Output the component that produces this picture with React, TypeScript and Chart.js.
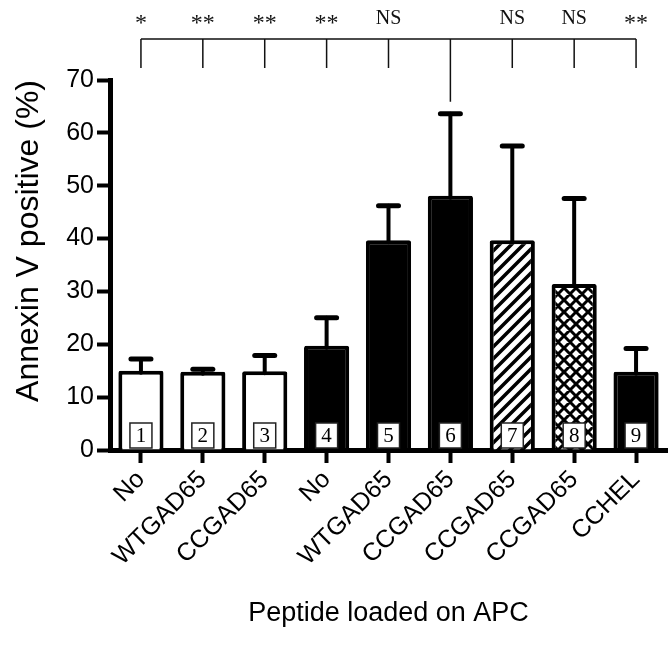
import React, { useEffect, useRef } from 'react';
import { Chart, registerables } from 'chart.js';

Chart.register(...registerables);

// ---- data ----
const categories = ['No', 'WTGAD65', 'CCGAD65', 'No', 'WTGAD65', 'CCGAD65', 'CCGAD65', 'CCGAD65', 'CCHEL'];
const meanValues = [15.0, 14.8, 14.9, 19.7, 39.7, 48.1, 39.7, 31.4, 14.8];
const errorValues = [2.2, 0.5, 3.0, 5.3, 6.5, 15.5, 17.8, 16.2, 4.4];
const barNumbers = ['1', '2', '3', '4', '5', '6', '7', '8', '9'];
const significance = ['*', '**', '**', '**', 'NS', '', 'NS', 'NS', '**'];
const referenceIndex = 5;
const fillKinds = ['open', 'open', 'open', 'solid', 'solid', 'solid', 'hatch', 'cross', 'solid'];
const yMin = 0;
const yMax = 70;
const yStep = 10;

const SANS = '"Liberation Sans", Arial, Helvetica, sans-serif';
const SERIF = '"Liberation Serif", "Times New Roman", Times, serif';

function makePattern(kind: 'hatch' | 'cross'): CanvasPattern | string {
  const s = 12;
  const c = document.createElement('canvas');
  c.width = s;
  c.height = s;
  const g = c.getContext('2d');
  if (!g) return '#fff';
  g.fillStyle = '#fff';
  g.fillRect(0, 0, s, s);
  g.strokeStyle = '#000';
  g.lineWidth = kind === 'hatch' ? 3.5 : 3;
  g.lineCap = 'square';
  g.beginPath();
  // "/" diagonals
  g.moveTo(-3, s + 3); g.lineTo(s + 3, -3);
  g.moveTo(-3, 3); g.lineTo(3, -3);
  g.moveTo(s - 3, s + 3); g.lineTo(s + 3, s - 3);
  if (kind === 'cross') {
    // "\" diagonals
    g.moveTo(-3, -3); g.lineTo(s + 3, s + 3);
    g.moveTo(s - 3, -3); g.lineTo(s + 3, 3);
    g.moveTo(-3, s - 3); g.lineTo(3, s + 3);
  }
  g.stroke();
  const p = g.createPattern(c, 'repeat');
  return p || '#fff';
}

const errorBarPlugin = {
  id: 'errorBars',
  afterDatasetsDraw(chart: any) {
    const ctx: CanvasRenderingContext2D = chart.ctx;
    const meta = chart.getDatasetMeta(0);
    const y = chart.scales.y;
    ctx.save();
    ctx.strokeStyle = '#000';
    ctx.lineCap = 'round';
    meta.data.forEach((bar: any, i: number) => {
      const x = bar.x;
      const top = y.getPixelForValue(meanValues[i]) + 2;
      const end = y.getPixelForValue(meanValues[i] + errorValues[i]);
      ctx.lineWidth = 4;
      ctx.beginPath();
      ctx.moveTo(x, top);
      ctx.lineTo(x, end);
      ctx.stroke();
      ctx.lineWidth = 5;
      ctx.beginPath();
      ctx.moveTo(x - 10, end);
      ctx.lineTo(x + 10, end);
      ctx.stroke();
    });
    // number boxes
    const bottom = chart.chartArea.bottom;
    meta.data.forEach((bar: any, i: number) => {
      const w = 22;
      const h = 25;
      const x0 = bar.x - w / 2;
      const y0 = bottom - 2 - h;
      ctx.fillStyle = '#fff';
      ctx.fillRect(x0, y0, w, h);
      ctx.lineWidth = 1.5;
      ctx.strokeStyle = '#222';
      ctx.strokeRect(x0, y0, w, h);
      ctx.fillStyle = '#000';
      ctx.font = `21px ${SERIF}`;
      ctx.textAlign = 'center';
      ctx.textBaseline = 'middle';
      ctx.fillText(barNumbers[i], bar.x, y0 + h / 2 + 1);
    });
    ctx.restore();
  },
};

const bracketPlugin = {
  id: 'bracket',
  afterDraw(chart: any) {
    const ctx: CanvasRenderingContext2D = chart.ctx;
    const xs = chart.scales.x;
    const ys = chart.scales.y;
    const top = chart.chartArea.top;
    const lineY = top - 41;
    const tickEnd = top - 12;
    const n = categories.length;
    const x0 = xs.getPixelForValue(0);
    const x1 = xs.getPixelForValue(n - 1);
    ctx.save();
    ctx.strokeStyle = '#111';
    ctx.lineWidth = 1.5;
    ctx.beginPath();
    ctx.moveTo(x0, lineY);
    ctx.lineTo(x1, lineY);
    for (let i = 0; i < n; i++) {
      const x = xs.getPixelForValue(i);
      ctx.moveTo(x, lineY);
      if (i === referenceIndex) {
        const capY = ys.getPixelForValue(meanValues[i] + errorValues[i]);
        ctx.lineTo(x, capY - 12);
      } else {
        ctx.lineTo(x, tickEnd);
      }
    }
    ctx.stroke();
    ctx.fillStyle = '#111';
    ctx.textAlign = 'center';
    ctx.textBaseline = 'alphabetic';
    for (let i = 0; i < n; i++) {
      const t = significance[i];
      if (!t) continue;
      const x = xs.getPixelForValue(i);
      if (t === 'NS') {
        ctx.font = `20px ${SERIF}`;
        ctx.fillText(t, x, lineY - 15);
      } else {
        ctx.font = `24px ${SERIF}`;
        ctx.fillText(t, x, lineY - 9);
      }
    }
    ctx.restore();
  },
};

export default function App() {
  const ref = useRef<HTMLCanvasElement | null>(null);
  useEffect(() => {
    if (!ref.current) return;
    const hatch = makePattern('hatch');
    const cross = makePattern('cross');
    const bg = fillKinds.map((k) =>
      k === 'open' ? '#fff' : k === 'solid' ? '#000' : k === 'hatch' ? hatch : cross
    );
    const chart = new Chart(ref.current, {
      type: 'bar',
      data: {
        labels: categories,
        datasets: [
          {
            data: meanValues,
            backgroundColor: bg as any,
            borderColor: '#000',
            borderWidth: 4,
            borderRadius: 2,
            borderSkipped: 'bottom',
            barPercentage: 0.73,
            categoryPercentage: 1,
          },
        ],
      },
      options: {
        responsive: false,
        animation: false,
        devicePixelRatio: 1,
        layout: { padding: { top: 80, right: 3, left: 0, bottom: 0 } },
        plugins: { legend: { display: false }, tooltip: { enabled: false } },
        scales: {
          x: {
            z: 1,
            offset: true,
            grid: {
              display: true,
              offset: false,
              drawOnChartArea: false,
              drawTicks: true,
              tickLength: 13,
              tickWidth: 4,
              tickColor: '#000',
              color: '#000',
            },
            border: { display: true, color: '#000', width: 5 },
            ticks: {
              color: '#000',
              font: { family: SANS, size: 25 },
              minRotation: 45,
              maxRotation: 45,
              padding: 2,
              autoSkip: false,
            },
            title: {
              display: true,
              text: 'Peptide loaded on APC',
              color: '#000',
              font: { family: SANS, size: 27 },
              padding: { top: 0, bottom: 28 },
            },
            afterFit: (s: any) => {
              s.height = 208;
            },
          },
          y: {
            min: yMin,
            max: yMax,
            grid: {
              display: true,
              drawOnChartArea: false,
              drawTicks: true,
              tickLength: 13,
              tickWidth: 4,
              tickColor: '#000',
              color: '#000',
            },
            border: { display: true, color: '#000', width: 5 },
            ticks: {
              stepSize: yStep,
              color: '#000',
              font: { family: SANS, size: 25 },
              padding: 3,
            },
            title: {
              display: true,
              text: 'Annexin V positive (%)',
              color: '#000',
              align: 'end',
              font: { family: SANS, size: 32 },
              padding: { top: 10, bottom: 0 },
            },
            afterFit: (s: any) => {
              s.width = 110;
            },
          },
        },
      },
      plugins: [errorBarPlugin, bracketPlugin],
    } as any);
    return () => chart.destroy();
  }, []);
  return (
    <div style={{ position: 'absolute', left: 0, top: 0, width: 670, height: 658, background: '#fff' }}>
      <canvas ref={ref} width={670} height={658} style={{ display: 'block' }} />
    </div>
  );
}
